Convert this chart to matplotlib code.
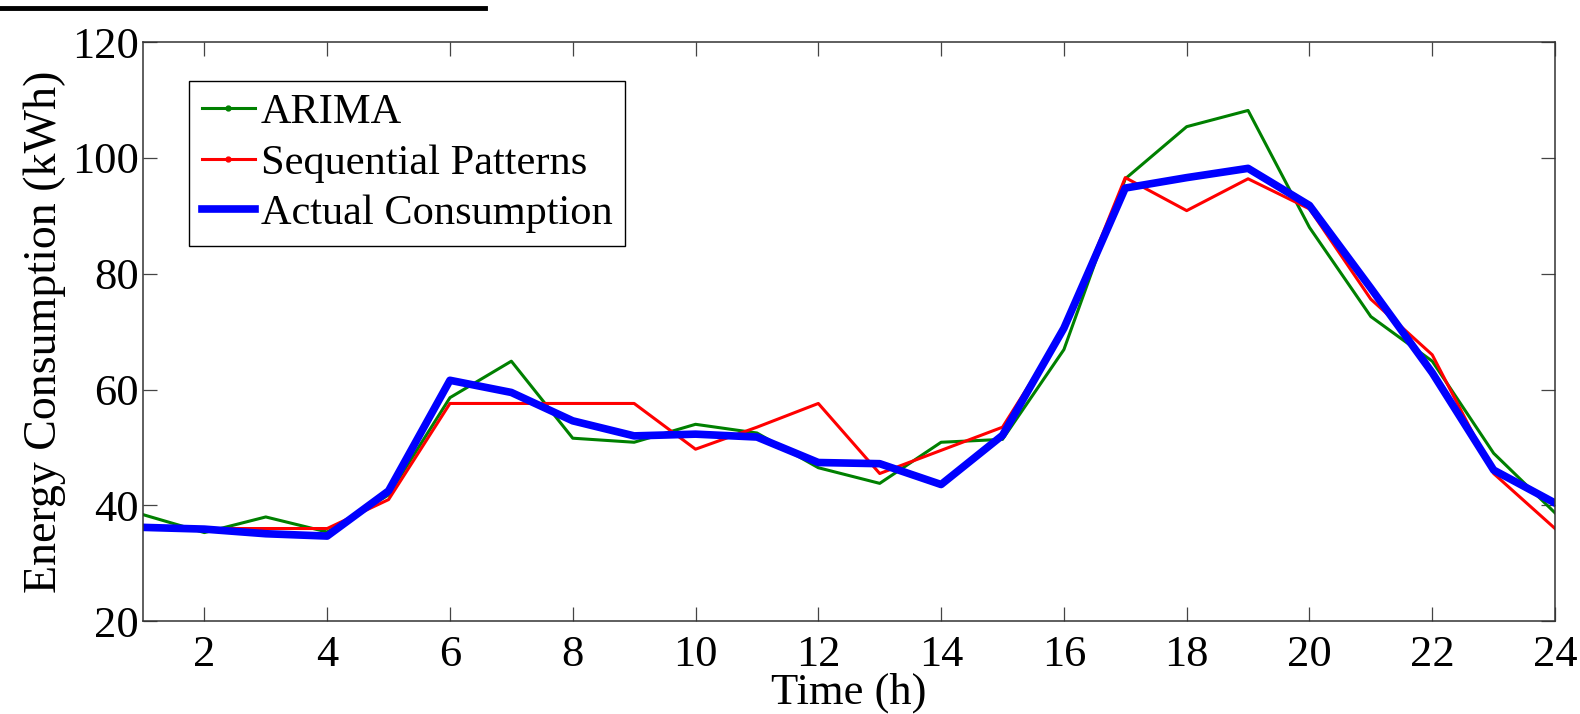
import numpy as np
import matplotlib.pyplot as plt
from matplotlib.lines import Line2D

# Hourly energy consumption (kWh)
hours = list(range(1, 25))
arima = [38.4, 35.3, 38.0, 35.4, 41.8, 58.6, 64.9, 51.6, 50.9, 54.0, 52.5, 46.5,
         43.8, 50.9, 51.4, 66.9, 96.4, 105.4, 108.2, 88.0, 72.6, 64.9, 49.0, 38.7]
seq_patterns = [36.0, 36.0, 36.0, 36.0, 41.0, 57.6, 57.6, 57.6, 57.6, 49.7, 53.5, 57.6,
                45.5, 49.5, 53.5, 70.3, 96.6, 90.9, 96.4, 91.2, 75.6, 66.0, 45.5, 36.0]
actual = [36.2, 35.9, 35.1, 34.7, 42.5, 61.6, 59.5, 54.6, 52.0, 52.3, 51.8, 47.4,
          47.2, 43.6, 52.1, 70.6, 94.8, 96.6, 98.2, 91.8, 77.5, 62.9, 46.1, 40.4]

xticks = list(range(2, 25, 2))
yticks = [20, 40, 60, 80, 100, 120]

plt.rcParams['font.family'] = ['Liberation Serif', 'DejaVu Serif']

fig = plt.figure(figsize=(15.8, 7.14), dpi=100)
ax = fig.add_axes([0.0905, 0.130, 0.8937, 0.811])

ax.plot(hours, arima, color='#008000', linewidth=2.2)
ax.plot(hours, seq_patterns, color='#ff0000', linewidth=2.2)
ax.plot(hours, actual, color='#0000ff', linewidth=5.5)

ax.set_xlim(1, 24)
ax.set_ylim(20, 120)
ax.set_xticks(xticks)
ax.set_yticks(yticks)
ax.tick_params(axis='both', direction='in', length=10, width=0.9, color='#444444',
               top=True, right=True, labelsize=32)
ax.tick_params(axis='x', pad=10)
ax.tick_params(axis='y', pad=3)
for s in ax.spines.values():
    s.set_color('#333333')
    s.set_linewidth(1.1)

ax.set_xlabel('Time (h)', fontsize=32, labelpad=-2)
ax.set_ylabel('Energy Consumption (kWh)', fontsize=33, labelpad=4)

handles = [
    Line2D([], [], color='#008000', linewidth=2.2, marker='.', markersize=7),
    Line2D([], [], color='#ff0000', linewidth=2.2, marker='.', markersize=7),
    Line2D([], [], color='#0000ff', linewidth=5.5),
]
labels = ['ARIMA', 'Sequential Patterns', 'Actual Consumption']
leg = ax.legend(handles, labels, loc='upper left', bbox_to_anchor=(0.0326, 0.933),
                borderaxespad=0, fontsize=30.5, handlelength=1.25, handletextpad=0.15,
                labelspacing=0.28, borderpad=0.3, fancybox=False, framealpha=1,
                edgecolor='black')
leg.get_frame().set_linewidth(1.0)

# black rule at the top-left of the page
fig.add_artist(Line2D([0.0, 0.307], [0.989, 0.989], color='black', linewidth=3.5,
                      transform=fig.transFigure))

fig.savefig('out.png', dpi=100)
